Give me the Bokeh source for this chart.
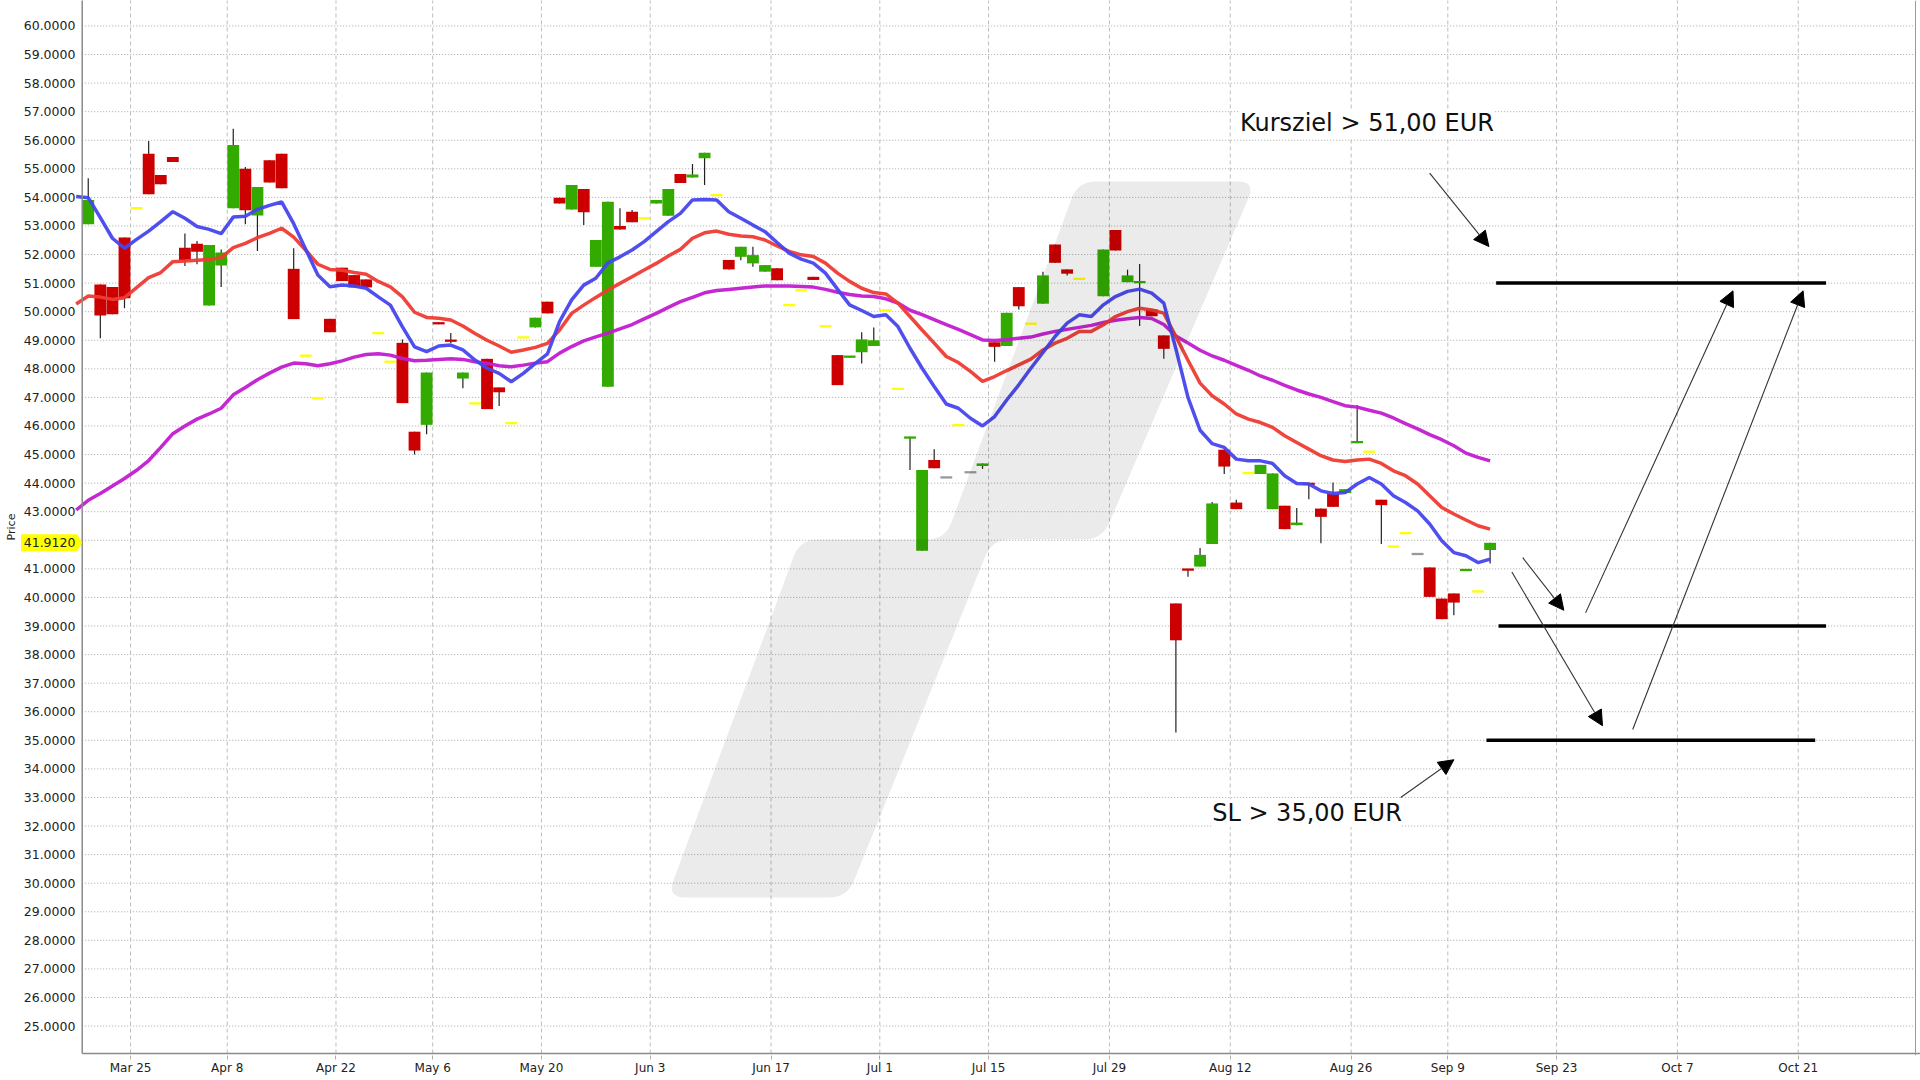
import math
from bokeh.plotting import figure
from bokeh.models import Range1d, FixedTicker, Arrow, NormalHead, Label, Span
from bokeh.embed import file_html
from bokeh.resources import INLINE
from bokeh.core.properties import value

# ---------------- data (one entry per trading-day slot) ----------------
kind = ["up","down","down","down","flat","down","down","down","down","down",
        "up","up","up","down","up","down","down","down","flat","flat",
        "down","down","down","down","flat","flat","down","down","up","down",
        "down","up","flat","down","down","flat","flat","up","down","down",
        "up","down","up","up","down","down","flat","up","up","down",
        "up","up","flat","down","up","up","up","down","flat","flat",
        "down","flat","down","up","up","up","flat","flat","up","up",
        "down","gray","flat","gray","up","down","up","down","flat","up",
        "down","down","flat","none","up","down","up","up","down","down",
        "down","down","up","up","down","down","flat","up","up","down",
        "up","down","down","down","up","up","flat","down","flat","flat",
        "gray","down","down","down","up","flat","up"]
open_ = [53.06,50.95,50.86,52.60,53.62,55.53,54.78,55.41,52.24,52.38,
         50.22,51.62,53.62,55.00,53.37,55.30,55.53,51.50,48.46,46.97,
         49.75,51.54,51.28,51.13,49.25,48.25,48.91,45.80,46.04,49.63,
         49.02,47.66,46.79,48.35,47.35,46.10,49.10,49.45,50.35,53.99,
         53.58,54.29,51.57,47.37,53.00,53.50,53.27,53.79,53.36,54.82,
         54.70,55.37,54.08,51.81,51.92,51.69,51.40,51.52,50.23,50.75,
         51.22,49.49,48.48,48.40,48.58,48.80,50.05,47.30,45.57,41.63,
         44.81,44.20,46.03,44.38,44.60,48.93,48.80,50.86,49.58,50.28,
         52.35,51.48,51.15,None,50.54,52.86,51.03,51.00,50.08,49.17,
         39.79,40.99,41.08,41.87,45.17,43.32,44.35,44.32,43.09,43.21,
         42.53,44.00,43.11,43.62,43.65,45.40,45.10,43.42,41.78,42.25,
         41.52,41.05,39.96,40.14,40.93,40.21,41.66]
high = [54.67,50.95,50.86,52.60,53.62,55.97,54.78,55.41,52.74,52.47,
        52.33,52.18,56.40,55.06,54.36,55.30,55.53,52.22,48.46,46.97,
        49.75,51.54,51.28,51.13,49.25,48.25,49.03,45.80,47.87,49.63,
        49.25,47.87,46.79,48.35,47.35,46.10,49.10,49.79,50.35,53.99,
        54.43,54.29,52.51,53.85,53.62,53.56,53.27,53.91,54.29,54.82,
        55.17,55.56,54.08,51.81,52.27,52.27,51.63,51.52,50.23,50.75,
        51.22,49.49,48.48,48.45,49.28,49.45,50.05,47.30,45.62,44.46,
        45.19,44.20,46.03,44.38,44.69,48.93,49.96,50.86,49.58,51.40,
        52.35,51.48,51.15,None,52.18,52.86,51.47,51.67,50.08,49.17,
        39.79,40.99,41.73,43.34,45.17,43.42,44.35,44.64,44.34,43.21,
        43.13,44.00,43.11,44.02,43.79,46.73,45.10,43.42,41.78,42.25,
        41.52,41.05,39.96,40.14,40.99,40.21,41.912]
low = [53.06,49.07,49.91,50.12,53.62,54.11,54.46,55.24,51.60,51.66,
       50.22,50.86,53.62,53.06,52.12,54.52,54.32,49.74,48.46,46.97,
       49.28,51.07,50.85,50.85,49.25,48.25,46.80,45.00,45.71,49.56,
       48.90,47.32,46.79,46.59,46.70,46.10,49.10,49.45,49.94,53.79,
       53.58,53.03,51.57,47.37,52.88,53.13,53.27,53.79,53.36,54.50,
       54.70,54.43,54.08,51.48,51.80,51.57,51.40,51.10,50.23,50.75,
       51.11,49.49,47.43,48.40,48.19,48.80,50.05,47.30,44.46,41.63,
       44.52,44.20,46.03,44.38,44.50,48.25,48.80,50.08,49.58,50.28,
       51.71,51.27,51.15,None,50.54,52.14,51.03,49.50,49.84,48.35,
       35.27,40.72,41.08,41.87,44.32,43.09,44.35,44.32,43.09,42.39,
       42.53,43.44,41.90,43.17,43.65,45.40,45.10,41.87,41.78,42.25,
       41.52,40.02,39.24,39.38,40.93,40.21,41.19]
close = [53.91,49.87,49.91,50.47,53.62,54.11,54.46,55.24,51.80,52.10,
         52.33,52.07,55.83,53.55,54.36,54.52,54.32,49.74,48.46,46.97,
         49.28,51.07,50.85,50.85,49.25,48.25,46.80,45.14,47.87,49.56,
         48.95,47.87,46.79,46.59,47.18,46.10,49.10,49.79,49.94,53.79,
         54.43,53.48,52.51,53.85,52.88,53.13,53.27,53.91,54.29,54.50,
         54.80,55.56,54.08,51.48,52.27,51.98,51.63,51.10,50.23,50.75,
         51.11,49.49,47.43,48.45,49.03,49.00,50.05,47.30,45.62,44.46,
         44.52,44.20,46.03,44.38,44.69,48.77,49.96,50.19,49.58,51.27,
         51.71,51.33,51.15,None,52.18,52.14,51.27,51.07,49.84,48.70,
         38.50,40.96,41.49,43.29,44.58,43.09,44.35,44.64,44.34,42.39,
         42.62,43.95,42.82,43.17,43.79,45.47,45.10,43.23,41.78,42.25,
         41.52,40.02,39.24,39.82,40.99,40.21,41.912]

# moving averages; first value belongs to the slot just before the visible range
ma_fast = [54.03,
           53.99,53.29,52.57,52.22,52.53,52.82,53.15,53.50,53.27,52.98,
           52.88,52.73,53.31,53.34,53.58,53.72,53.84,53.08,52.18,51.28,
           50.87,50.93,50.90,50.82,50.52,50.23,49.47,48.77,48.60,48.80,
           48.83,48.66,48.31,48.02,47.84,47.55,47.84,48.19,48.52,49.65,
           50.41,50.93,51.17,51.71,51.92,52.16,52.45,52.80,53.15,53.44,
           53.91,53.93,53.91,53.50,53.27,53.03,52.80,52.42,52.05,51.84,
           51.70,51.35,50.79,50.24,50.04,49.83,49.89,49.48,48.72,48.02,
           47.38,46.77,46.62,46.27,46.00,46.33,46.91,47.44,48.02,48.57,
           49.13,49.60,49.89,49.83,50.24,50.53,50.71,50.79,50.65,50.30,
           48.70,47.00,45.85,45.38,45.25,44.84,44.78,44.78,44.69,44.26,
           43.99,43.97,43.73,43.64,43.67,43.97,44.20,43.97,43.56,43.32,
           43.03,42.57,41.98,41.57,41.46,41.22,41.34]
ma_mid = [50.27,
          50.55,50.51,50.43,50.49,50.84,51.19,51.37,51.75,51.77,51.80,
          51.83,51.89,52.24,52.39,52.59,52.74,52.92,52.61,52.15,51.66,
          51.48,51.45,51.37,51.31,51.06,50.87,50.52,49.98,49.80,49.77,
          49.71,49.50,49.24,49.00,48.80,48.58,48.66,48.75,48.89,49.36,
          49.94,50.23,50.50,50.76,50.99,51.22,51.46,51.69,51.95,52.18,
          52.57,52.76,52.82,52.71,52.65,52.62,52.51,52.30,52.11,51.99,
          51.93,51.70,51.35,51.06,50.82,50.67,50.62,50.30,49.83,49.36,
          48.90,48.43,48.22,47.91,47.56,47.73,47.94,48.14,48.34,48.66,
          48.90,49.07,49.31,49.31,49.54,49.83,50.00,50.12,50.06,49.95,
          49.13,48.30,47.50,47.06,46.77,46.42,46.24,46.12,45.95,45.66,
          45.42,45.19,44.96,44.81,44.76,44.81,44.84,44.69,44.43,44.26,
          43.97,43.56,43.15,42.92,42.71,42.51,42.39]
ma_slow = [43.06,
           43.40,43.64,43.90,44.16,44.45,44.79,45.25,45.73,46.00,46.24,
           46.42,46.62,47.09,47.35,47.62,47.85,48.06,48.20,48.18,48.11,
           48.18,48.28,48.41,48.50,48.53,48.48,48.36,48.28,48.30,48.33,
           48.35,48.33,48.25,48.19,48.11,48.07,48.13,48.20,48.25,48.55,
           48.78,48.98,49.12,49.25,49.40,49.55,49.75,49.94,50.15,50.35,
           50.50,50.66,50.74,50.78,50.82,50.86,50.90,50.90,50.90,50.88,
           50.86,50.78,50.68,50.60,50.55,50.53,50.45,50.30,50.05,49.90,
           49.72,49.55,49.38,49.20,49.01,48.99,49.02,49.07,49.11,49.22,
           49.31,49.38,49.45,49.52,49.62,49.70,49.75,49.80,49.76,49.55,
           49.15,48.90,48.65,48.45,48.30,48.12,47.95,47.75,47.60,47.42,
           47.26,47.12,47.00,46.85,46.71,46.66,46.55,46.45,46.28,46.08,
           45.90,45.70,45.52,45.31,45.05,44.90,44.78]

tick_slots = [4, 12, 21, 29, 38, 47, 57, 66, 75, 85, 95, 105, 113, 122, 132, 142]
tick_labels = ["Mar 25", "Apr 8", "Apr 22", "May 6", "May 20", "Jun 3", "Jun 17", "Jul 1",
               "Jul 15", "Jul 29", "Aug 12", "Aug 26", "Sep 9", "Sep 23", "Oct 7", "Oct 21"]
price_ticks = list(range(25, 61))
last_price = 41.912

# drawn levels (target / entry / stop) and arrows
level_y = [51.0, 39.0, 35.0]
level_x0 = [117.0, 117.2, 116.2]
level_x1 = [144.3, 144.3, 143.4]
arrow_x0 = [111.5, 119.2, 118.3, 124.4, 128.3, 109.1]
arrow_y0 = [54.85, 41.39, 40.89, 39.46, 35.38, 33.0]
arrow_x1 = [116.4, 122.6, 125.8, 136.6, 142.4, 113.5]
arrow_y1 = [52.28, 39.55, 35.51, 50.73, 50.73, 34.32]
note_text = ["Kursziel > 51,00 EUR", "SL > 35,00 EUR"]
note_x = [95.8, 93.5]
note_y = [56.6, 32.45]

# background watermark outline (slot, price)
wm_x = [82.4, 97.1, 84.4, 75.3, 63.3, 48.4, 59.4, 71.4]
wm_y = [54.56, 54.56, 42.03, 42.03, 29.5, 29.5, 42.03, 42.03]

# ---------------- geometry of the page ----------------
PX_SLOT = 12.085          # pixels per slot
PX_PRICE = 28.575         # pixels per price unit
AXIS_PX = 81.7            # left axis position in pixels
W, H = 1920, 1080
BOTTOM_BORDER = 25
X0 = -AXIS_PX / PX_SLOT
X1 = X0 + W / PX_SLOT
Y_TOP = 60.89
Y_AXIS = 24.04
Y0 = Y_TOP - (H - BOTTOM_BORDER) / PX_PRICE
X_RIGHT_EDGE = 151.7

p = figure(width=W, height=H, output_backend="svg", toolbar_location=None,
           x_range=Range1d(X0, X1), y_range=Range1d(Y0, Y_TOP),
           y_axis_location=None,
           min_border_left=0, min_border_right=0, min_border_top=0, min_border_bottom=BOTTOM_BORDER)
p.outline_line_color = None
p.background_fill_color = "white"
for g in p.grid:
    g.visible = False

# grid lines (start at the price axis)
p.segment(x0=[0] * len(price_ticks), y0=price_ticks, x1=[X_RIGHT_EDGE] * len(price_ticks), y1=price_ticks,
          line_color="#a8a8a8", line_width=1, line_dash="1 2")
p.segment(x0=tick_slots, y0=[Y_AXIS] * len(tick_slots), x1=tick_slots, y1=[Y_TOP + 1] * len(tick_slots),
          line_color="#bdbdbd", line_width=1, line_dash="4 3")

# candles
colors = {"up": "#33aa00", "down": "#cc0000", "flat": "#ffff00", "gray": "#999999"}
xs, bb, bt, bc, wx, wl, wh = [], [], [], [], [], [], []
for k, kd in enumerate(kind):
    if kd == "none":
        continue
    x = k + 0.5
    o, h, l, c = open_[k], high[k], low[k], close[k]
    if kd in ("flat", "gray"):
        b0, b1 = c - 0.04, c + 0.04
    else:
        b0, b1 = min(o, c), max(o, c)
        if b1 - b0 < 0.08:
            m = (b0 + b1) / 2
            b0, b1 = m - 0.04, m + 0.04
    xs.append(x); bb.append(b0); bt.append(b1); bc.append(colors[kd])
    if h - l > 0.01:
        wx.append(x); wl.append(l); wh.append(h)

p.segment(x0=wx, y0=wl, x1=wx, y1=wh, line_color="#222222", line_width=1.2)
p.vbar(x=xs, width=0.98, bottom=bb, top=bt, fill_color=bc, line_color=None)

xl = [k - 0.5 for k in range(len(ma_fast))]
p.line(xl, ma_slow, line_color="#c21bd0", line_width=3.5, line_alpha=0.95)
p.line(xl, ma_mid, line_color="#ef3b33", line_width=3.5, line_alpha=0.95)
p.line(xl, ma_fast, line_color="#4646ee", line_width=3.5, line_alpha=0.95)

for y, a, b in zip(level_y, level_x0, level_x1):
    p.line([a, b], [y, y], line_color="black", line_width=3.5)

for a, b, c, d in zip(arrow_x0, arrow_y0, arrow_x1, arrow_y1):
    p.add_layout(Arrow(end=NormalHead(size=15, fill_color="black", line_color="black"),
                       x_start=a, y_start=b, x_end=c, y_end=d,
                       line_color="#333333", line_width=1.1))

for t, x, y in zip(note_text, note_x, note_y):
    p.add_layout(Label(x=x, y=y, text=t, text_baseline="middle", text_align="left",
                       text_font="DejaVu Sans", text_font_size="24px", text_color="#111111",
                       background_fill_color="white"))

# watermark with rounded corners (computed in pixel space)
def rounded(xs_, ys_, r):
    pts = [(x * PX_SLOT, y * PX_PRICE) for x, y in zip(xs_, ys_)]
    out = []
    n = len(pts)
    for i in range(n):
        px, py = pts[i - 1]
        cx, cy = pts[i]
        nx, ny = pts[(i + 1) % n]
        d1 = math.hypot(px - cx, py - cy)
        d2 = math.hypot(nx - cx, ny - cy)
        a = (cx + (px - cx) * r / d1, cy + (py - cy) * r / d1)
        b = (cx + (nx - cx) * r / d2, cy + (ny - cy) * r / d2)
        for j in range(9):
            t = j / 8
            qx = (1 - t) ** 2 * a[0] + 2 * (1 - t) * t * cx + t ** 2 * b[0]
            qy = (1 - t) ** 2 * a[1] + 2 * (1 - t) * t * cy + t ** 2 * b[1]
            out.append((qx / PX_SLOT, qy / PX_PRICE))
    return [q[0] for q in out], [q[1] for q in out]

rx, ry = rounded(wm_x, wm_y, 18)
p.patch(rx, ry, fill_color="black", fill_alpha=0.08, line_color=None)

# axis lines
p.segment(x0=[0], y0=[Y_AXIS], x1=[0], y1=[Y_TOP + 1], line_color="#8a8a8a", line_width=1.5)
p.segment(x0=[0], y0=[Y_AXIS], x1=[X1], y1=[Y_AXIS], line_color="#8a8a8a", line_width=1.5)
p.add_layout(Span(location=X_RIGHT_EDGE, dimension="height", line_color="#9a9a9a", line_width=1))

# price labels drawn beside the axis
lab_vals = [v for v in price_ticks if abs(v - last_price) > 0.5]
p.text(x=[-0.56] * len(lab_vals), y=lab_vals, text=["%.4f" % v for v in lab_vals],
       text_align="right", text_baseline="middle", text_font=value("DejaVu Sans"),
       text_font_size="12.5px", text_color="#222222")
p.text(x=[X0 + 0.9], y=[(Y_TOP + Y_AXIS) / 2], text=["Price"], angle=math.pi / 2,
       text_align="center", text_baseline="middle", text_font=value("DejaVu Sans"),
       text_font_size="11px", text_color="#222222")

# highlighted last price tag
tag_h = 8.5 / PX_PRICE
tx = [-5.06, -0.42, 0.0, -0.42, -5.06]
ty = [last_price - tag_h, last_price - tag_h, last_price, last_price + tag_h, last_price + tag_h]
p.patch(tx, ty, fill_color="#ffff00", line_color=None)
p.text(x=[-0.56], y=[last_price], text=["%.4f" % last_price], text_align="right", text_baseline="middle",
       text_font=value("DejaVu Sans"), text_font_size="12.5px", text_color="#222222")

# date axis
xa = p.xaxis[0]
xa.ticker = FixedTicker(ticks=tick_slots)
xa.major_label_overrides = {s: t for s, t in zip(tick_slots, tick_labels)}
xa.major_tick_out = 4
xa.major_tick_in = 0
xa.major_tick_line_color = "#b0b0b0"
xa.minor_tick_out = 0
xa.minor_tick_in = 0
xa.axis_line_color = None
xa.major_label_text_font = "DejaVu Sans"
xa.major_label_text_font_size = "12px"
xa.major_label_text_color = "#222222"
xa.major_label_standoff = 1

open("out.html", "w").write(file_html(p, INLINE))
